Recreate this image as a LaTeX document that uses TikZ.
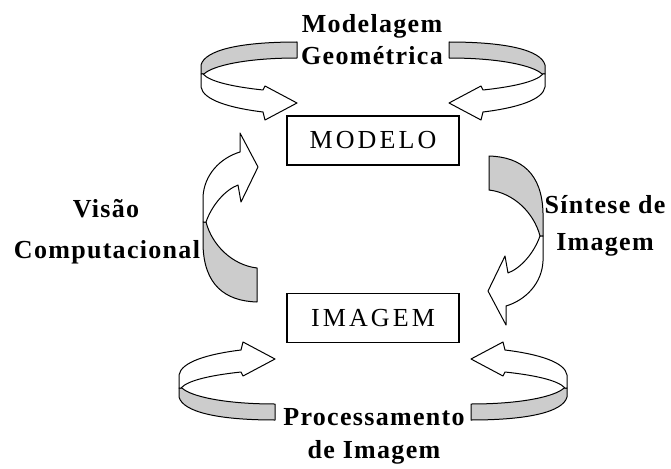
\documentclass[tikz,border=0pt]{standalone}
\usepackage{fontspec}
\setmainfont{Liberation Serif}
\newfontfamily\labfont[LetterSpace=5]{Liberation Serif}
\newfontfamily\boxfont[LetterSpace=12]{Liberation Serif}
\newcommand\myhrib{%
  \path[ribbonback] (297,42) .. controls (240,42) and (205,50) .. (201,65) -- (201,74) -- (204,74) .. controls (212,66) and (245,58) .. (297,58) -- cycle;
  \path[ribbonfront] (203,74) .. controls (210,82) and (235,87) .. (263,90) -- (265,86) -- (297,103) -- (265,120) -- (263,112) .. controls (230,108) and (203,100) .. (201,87) -- (201,74) -- cycle;
}
\newcommand\myvrib{%
  \path[ribbonback] (203,222) -- (203,245) .. controls (204,285) and (225,301) .. (257,302) -- (257,268) .. controls (232,265) and (212,245) .. (206,222) -- cycle;
  \path[ribbonfront] (206,222) .. controls (212,205) and (225,190) .. (238,185) -- (241,202) -- (258,167) -- (240,133) -- (240,152) .. controls (220,158) and (204,175) .. (203,197) -- (203,222) -- cycle;
}
\begin{document}
\begin{tikzpicture}[x=1pt,y=-1pt,
  ribbonback/.style={draw=black, line width=1pt, fill=gray!40, line join=round},
  ribbonfront/.style={draw=black, line width=1pt, fill=white, line join=round},
  boxnode/.style={draw=black, line width=1.5pt, minimum width=172pt, minimum height=49pt, inner sep=0pt, font=\boxfont\fontsize{26}{30}\selectfont},
  lbltext/.style={anchor=base, inner sep=0pt, font=\labfont\bfseries\fontsize{26}{30}\selectfont}]
\fill[white] (0,0) rectangle (671,468);
\useasboundingbox (0,0) rectangle (671,468);
% horizontal ribbons
\myhrib
\begin{scope}[shift={(746,0)}, xscale=-1] \myhrib \end{scope}
\begin{scope}[shift={(-22,462)}, yscale=-1] \myhrib \end{scope}
\begin{scope}[shift={(768,462)}, xscale=-1, yscale=-1] \myhrib \end{scope}
% vertical ribbons
\myvrib
\begin{scope}[shift={(746,458)}, xscale=-1, yscale=-1] \myvrib \end{scope}
% boxes
\node[boxnode] (modelo) at (373,140.5) {MODELO};
\node[boxnode] (imagem) at (373,318) {IMAGEM};
% labels
\node[lbltext] (geoA) at (372,33) {Modelagem};
\node[lbltext] (geoB) at (372,65) {Geométrica};
\node[lbltext] (visA) at (106,217) {Visão};
\node[lbltext] (visB) at (107,258) {Computacional};
\node[lbltext] (sinA) at (605,213) {Síntese de};
\node[lbltext] (sinB) at (605,250) {Imagem};
\node[lbltext] (proA) at (374,425) {Processamento};
\node[lbltext] (proB) at (374,458) {de Imagem};
\end{tikzpicture}
\end{document}
